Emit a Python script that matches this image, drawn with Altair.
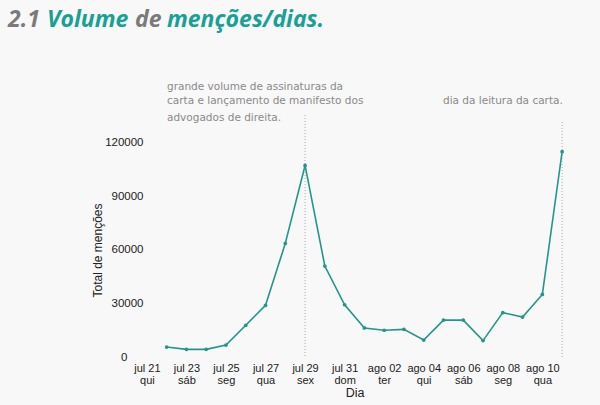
import altair as alt
import pandas as pd

dias = ["2022-07-22", "2022-07-23", "2022-07-24", "2022-07-25", "2022-07-26",
        "2022-07-27", "2022-07-28", "2022-07-29", "2022-07-30", "2022-07-31",
        "2022-08-01", "2022-08-02", "2022-08-03", "2022-08-04", "2022-08-05",
        "2022-08-06", "2022-08-07", "2022-08-08", "2022-08-09", "2022-08-10",
        "2022-08-11"]
mencoes = [5600, 4300, 4300, 6700, 17800, 29000, 63700, 107400, 51000, 29300,
           16300, 15000, 15500, 9500, 20700, 20700, 9200, 24900, 22400, 35100,
           115100]

marco_dias = ["2022-07-29", "2022-08-11"]
marco_topo = [135700, 131800]

y_ticks = [0, 30000, 60000, 90000, 120000]
x_tick_days = [(7, 21), (7, 23), (7, 25), (7, 27), (7, 29), (7, 31),
               (8, 2), (8, 4), (8, 6), (8, 8), (8, 10)]

anot1 = ["grande volume de assinaturas da",
         "carta e lançamento de manifesto dos",
         "advogados de direita."]
anot2 = "dia da leitura da carta."

df = pd.DataFrame({"dia": dias, "mencoes": mencoes})
df_rules = pd.DataFrame({"dia": marco_dias, "topo": marco_topo, "base": [0, 0]})

teal = "#23968c"
gray_title = "#7a7a7a"
teal_title = "#18a096"
ann_color = "#8a8a8a"

x_scale = alt.Scale(
    type="utc",
    domain=[alt.DateTime(year=2022, month=7, date=20, hours=12, utc=True),
            alt.DateTime(year=2022, month=8, date=11, hours=12, utc=True)],
)
y_scale = alt.Scale(domain=[0, 144112], nice=False)

label_expr = ("[['jan','fev','mar','abr','mai','jun','jul','ago','set','out','nov','dez']"
              "[utcmonth(datum.value)] + ' ' + utcFormat(datum.value, '%d'), "
              "['dom','seg','ter','qua','qui','sex','sáb'][utcday(datum.value)]]")

x_enc = alt.X(
    "dia:T", scale=x_scale, title="Dia",
    axis=alt.Axis(
        values=[alt.DateTime(year=2022, month=m, date=d, utc=True) for m, d in x_tick_days],
        labelExpr=label_expr, domain=False, ticks=False, grid=False,
        labelPadding=5, labelFontSize=11, labelLineHeight=12.5, labelColor="#222222",
        labelFont="Liberation Sans", labelAngle=0,
        titleFont="Liberation Sans", titleFontSize=12.5, titleFontWeight="normal",
        titleColor="#222222", titlePadding=1,
    ),
)
y_enc = alt.Y(
    "mencoes:Q", scale=y_scale, title="Total de menções",
    axis=alt.Axis(
        values=y_ticks, format="d", domain=False, ticks=False, grid=False,
        offset=-8, labelPadding=alt.ExprRef("datum.value == 0 ? 18 : 2"),
        labelFontSize=11.5, labelColor="#222222", labelFont="Liberation Sans",
        titleFont="Liberation Sans", titleFontSize=12, titleFontWeight="normal",
        titleColor="#222222", titleY=150, titlePadding=0,
    ),
)

line = alt.Chart(df).mark_line(color=teal, strokeWidth=1.6).encode(x=x_enc, y=y_enc)
pts = alt.Chart(df).mark_point(color=teal, filled=True, size=14, opacity=1).encode(x="dia:T", y="mencoes:Q")

rules = alt.Chart(df_rules).mark_rule(color="#aaaaaa", strokeDash=[1, 2], strokeWidth=1).encode(
    x="dia:T", y="topo:Q", y2="base:Q")

def txt(text, x, y, color, size, font, weight="normal", style="normal", baseline="alphabetic"):
    return alt.Chart(pd.DataFrame({"t": [text]})).mark_text(
        align="left", baseline=baseline, color=color, fontSize=size, font=font,
        fontWeight=weight, fontStyle=style,
    ).encode(text="t:N", x=alt.value(x), y=alt.value(y))

title_font = "Open Sans"
titles = [
    txt("2.1", -129, -73, gray_title, 23, title_font, "bold", "italic"),
    txt("Volume", -90, -73, teal_title, 23, title_font, "bold", "italic"),
    txt("de", -2, -73, gray_title, 23, title_font, "bold", "italic"),
    txt("menções/dias.", 30, -73, teal_title, 23, title_font, "bold", "italic"),
]
ann = [
    txt(anot1[0], 30, -13, ann_color, 10.5, "DejaVu Sans", baseline="middle"),
    txt(anot1[1], 30, 1, ann_color, 10.5, "DejaVu Sans", baseline="middle"),
    txt(anot1[2], 30, 18, ann_color, 10.5, "DejaVu Sans", baseline="middle"),
    txt(anot2, 306, 1, ann_color, 10.5, "DejaVu Sans", baseline="middle"),
]

chart = alt.layer(rules, line, pts, *titles, *ann).properties(
    width=435, height=257,
    autosize=alt.AutoSizeParams(type="none"),
    padding={"left": 137, "top": 100, "right": 28, "bottom": 48},
    background="#f7f8f7",
).configure_view(stroke=None)

chart.save("out.html", embed_options={"renderer": "svg", "actions": False})
